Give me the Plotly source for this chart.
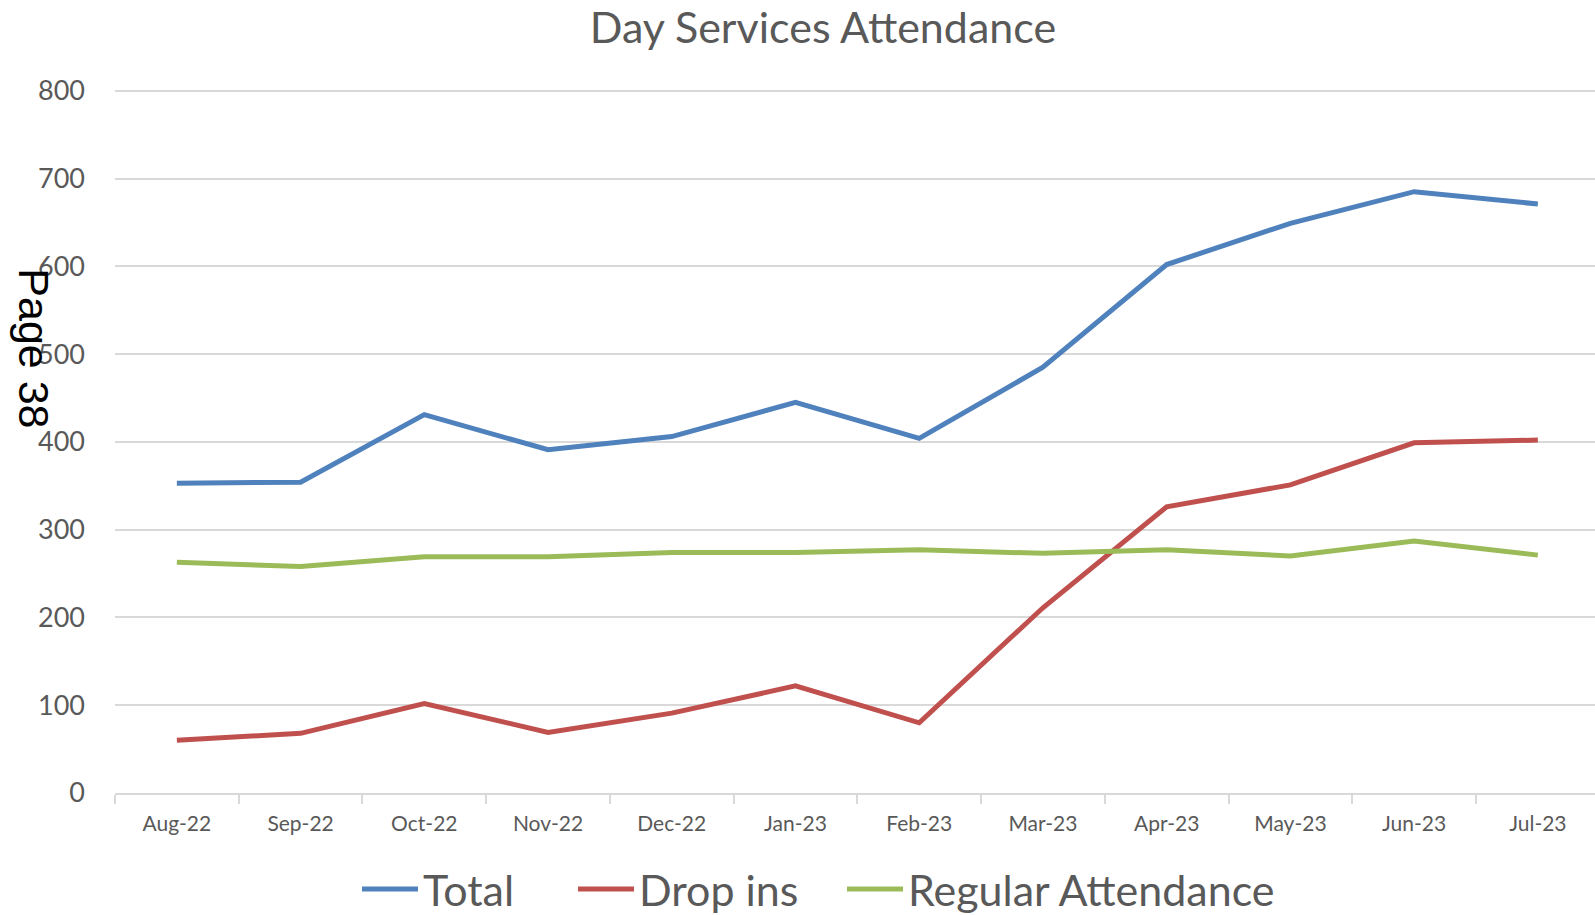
import plotly.graph_objects as go

months = ["Aug-22", "Sep-22", "Oct-22", "Nov-22", "Dec-22", "Jan-23",
          "Feb-23", "Mar-23", "Apr-23", "May-23", "Jun-23", "Jul-23"]
total = [353, 354, 431, 391, 406, 445, 404, 485, 602, 649, 685, 671]
drop_ins = [60, 68, 102, 69, 91, 122, 80, 211, 326, 351, 399, 402]
regular = [263, 258, 269, 269, 274, 274, 277, 273, 277, 270, 287, 271]

series = [("Total", total, "#4F81BD", "legend"),
          ("Drop ins", drop_ins, "#C0504D", "legend2"),
          ("Regular Attendance", regular, "#9BBB59", "legend3")]

W, H = 1595, 915
y_top, y_bot = 90.5, 793.4   # pixel positions of 800 and 0
ymax = 802
ppu = (y_bot - y_top) / 800
mt = y_bot - ymax * ppu
ml, mr, mb = 115.3, 0, H - y_bot
band = 123.7
xmax = -0.5 + (W - ml - mr) / band

fig = go.Figure()
for name, vals, col, lg in series:
    fig.add_trace(go.Scatter(x=months, y=vals, name=name, mode="lines",
                             line=dict(color=col, width=5), legend=lg,
                             showlegend=True))

leg_common = dict(orientation="h", xref="container", xanchor="left",
                  yref="container", yanchor="middle", y=1 - 889 / H,
                  font=dict(size=43, color="#595959", family="Lato, sans-serif"),
                  itemwidth=56, bgcolor="rgba(0,0,0,0)", visible=True)
line_starts = [362, 578, 847]

fig.update_layout(
    width=W, height=H, showlegend=True,
    margin=dict(l=ml, r=mr, t=mt, b=mb, autoexpand=False),
    paper_bgcolor="white", plot_bgcolor="white",
    font=dict(family="Lato, sans-serif", color="#595959"),
    title=dict(text="Day Services Attendance", x=823 / W, xref="container",
               xanchor="center", y=1 - 28 / H, yref="container", yanchor="middle",
               font=dict(size=43, color="#595959", family="Lato, sans-serif")),
    legend=dict(leg_common, x=(line_starts[0] - 5) / W),
    legend2=dict(leg_common, x=(line_starts[1] - 5) / W),
    legend3=dict(leg_common, x=(line_starts[2] - 5) / W),
    xaxis=dict(type="category", range=[-0.5, xmax], showline=True,
               linecolor="#D9D9D9", linewidth=2, ticks="outside",
               tickson="boundaries", ticklen=9, tickcolor="#D9D9D9", tickwidth=2,
               showgrid=False, tickfont=dict(size=21, color="#595959"),
               ticklabelstandoff=11),
    yaxis=dict(range=[0, ymax], tickvals=list(range(0, 801, 100)),
               showgrid=True, gridcolor="#D9D9D9",
               gridwidth=1.5, zeroline=False, showline=False,
               tickfont=dict(size=27, color="#595959"), ticklabelstandoff=29),
)

fig.add_annotation(text="Page 38", xref="paper", yref="paper",
                   x=(34 - ml) / (W - ml - mr), y=(y_bot - 348) / (y_bot - mt),
                   xanchor="center", yanchor="middle", showarrow=False,
                   textangle=90,
                   font=dict(family="Liberation Sans, Arial", size=43, color="black"))

fig.write_html("out.html", config={"displayModeBar": False},
               post_script="document.body.style.margin='0';")
